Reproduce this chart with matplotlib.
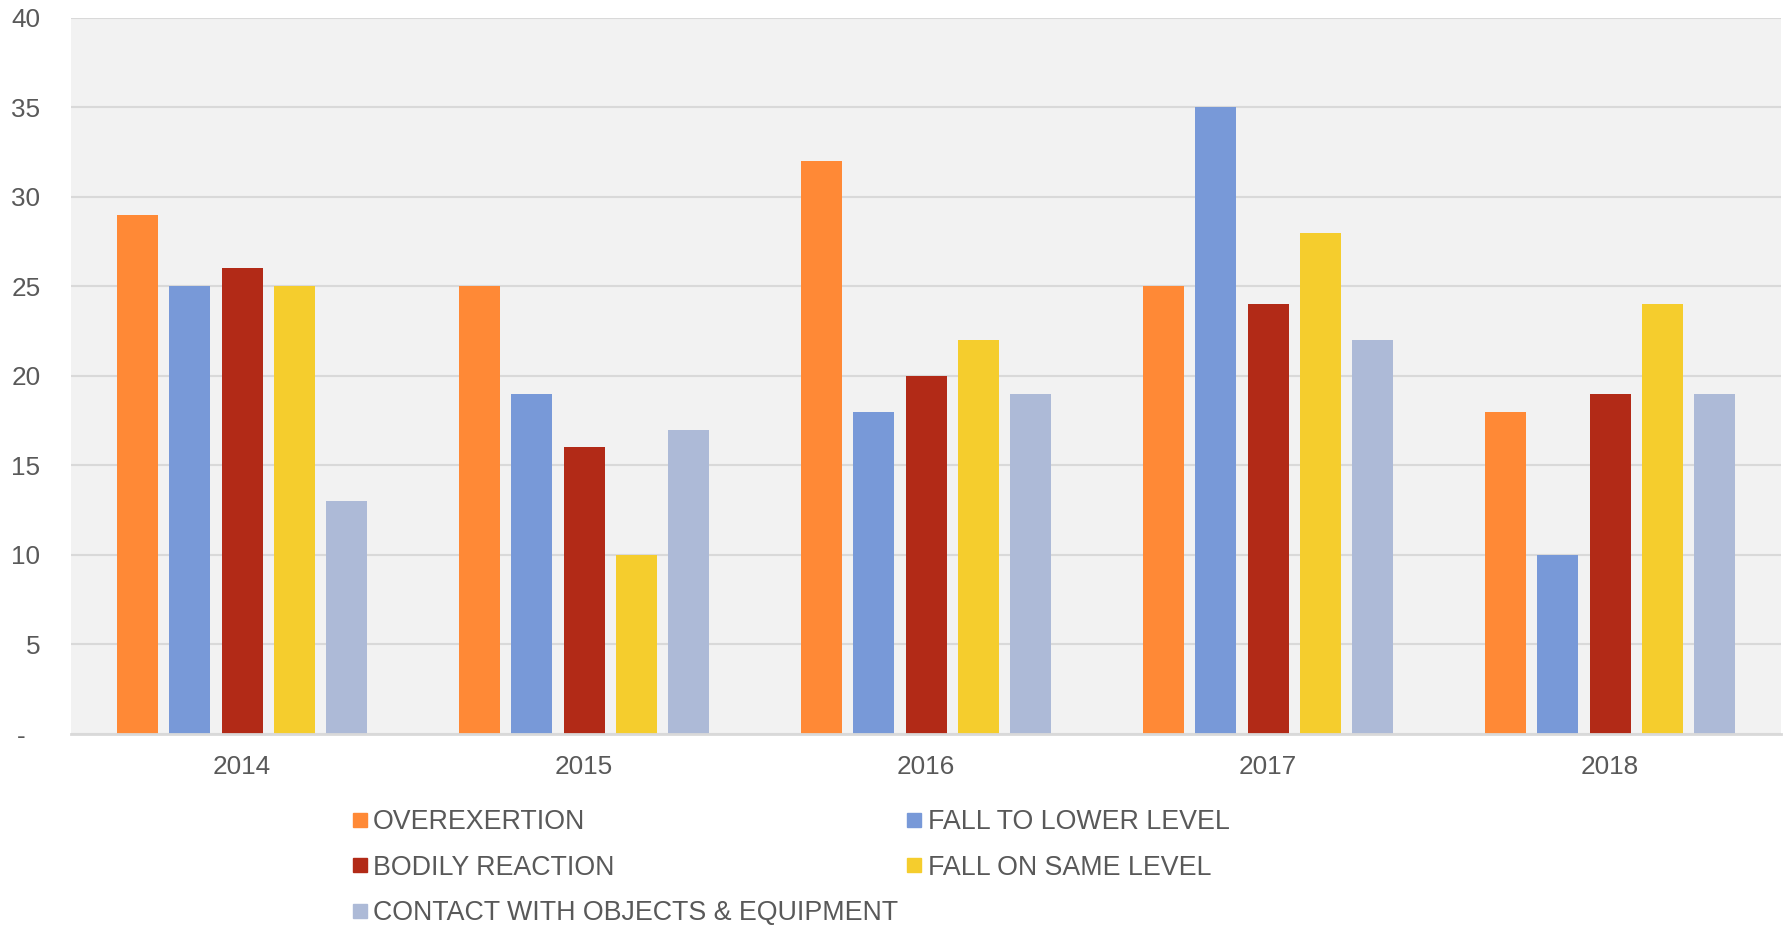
import numpy as np
import matplotlib
matplotlib.use("Agg")
from matplotlib import pyplot as plt
from matplotlib.lines import Line2D

plt.rcParams["font.family"] = ["Liberation Sans", "DejaVu Sans"]

#########################################
### Data
#########################################
years = ["2014", "2015", "2016", "2017", "2018"]
series_names = [
    "OVEREXERTION",
    "FALL TO LOWER LEVEL",
    "BODILY REACTION",
    "FALL ON SAME LEVEL",
    "CONTACT WITH OBJECTS & EQUIPMENT",
]
overexertion = [29, 25, 32, 25, 18]
fall_lower = [25, 19, 18, 35, 10]
bodily_reaction = [26, 16, 20, 24, 19]
fall_same = [25, 10, 22, 28, 24]
contact = [13, 17, 19, 22, 19]
yticks = [0, 5, 10, 15, 20, 25, 30, 35, 40]
ytick_labels = ["-  ", "5", "10", "15", "20", "25", "30", "35", "40"]

colors = ["#FF8936", "#7899D8", "#B22A17", "#F5CD2D", "#ADBAD7"]
text_col = "#595959"

#########################################
### Plot
#########################################
fig = plt.figure(figsize=(17.85, 9.26), dpi=100)
ax = fig.add_axes([0.0398, 0.2073, 0.958, 0.7737])
ax.set_facecolor("#F2F2F2")

x = np.arange(len(years))
pitch = 0.1533
width = 0.12
all_vals = [overexertion, fall_lower, bodily_reaction, fall_same, contact]
for n, vals in enumerate(all_vals):
    ax.bar(x + (n - 2) * pitch, vals, width, color=colors[n], zorder=3)

ax.set_xlim(-0.5, 4.5)
ax.set_ylim(0, 40)
ax.set_yticks(yticks)
ax.set_yticklabels(ytick_labels)
ax.set_xticks(x)
ax.set_xticklabels(years)
ax.grid(axis="y", color="#D9D9D9", linewidth=1.5, zorder=0)
ax.tick_params(axis="both", length=0, labelsize=18.8, colors=text_col)
ax.tick_params(axis="y", pad=22)
ax.tick_params(axis="x", pad=15)
for s in ["top", "right", "left"]:
    ax.spines[s].set_visible(False)
ax.spines["bottom"].set_color("#D9D9D9")
ax.spines["bottom"].set_linewidth(2)
ax.spines["bottom"].set_zorder(4)

# legend, column-major order so rows read like the original
order = [0, 2, 4, 1, 3]
handles = [Line2D([], [], marker="s", linestyle="none", markersize=10,
                  color=colors[i]) for i in order]
labels = [series_names[i] for i in order]
fig.legend(handles, labels, ncol=2, frameon=False, fontsize=19.3,
           labelcolor=text_col, loc="upper left",
           bbox_to_anchor=(0.197, 0.126), handletextpad=0.2,
           handlelength=0.6, columnspacing=0.3, labelspacing=0.72,
           borderaxespad=0, borderpad=0)

plt.savefig("out.png")
